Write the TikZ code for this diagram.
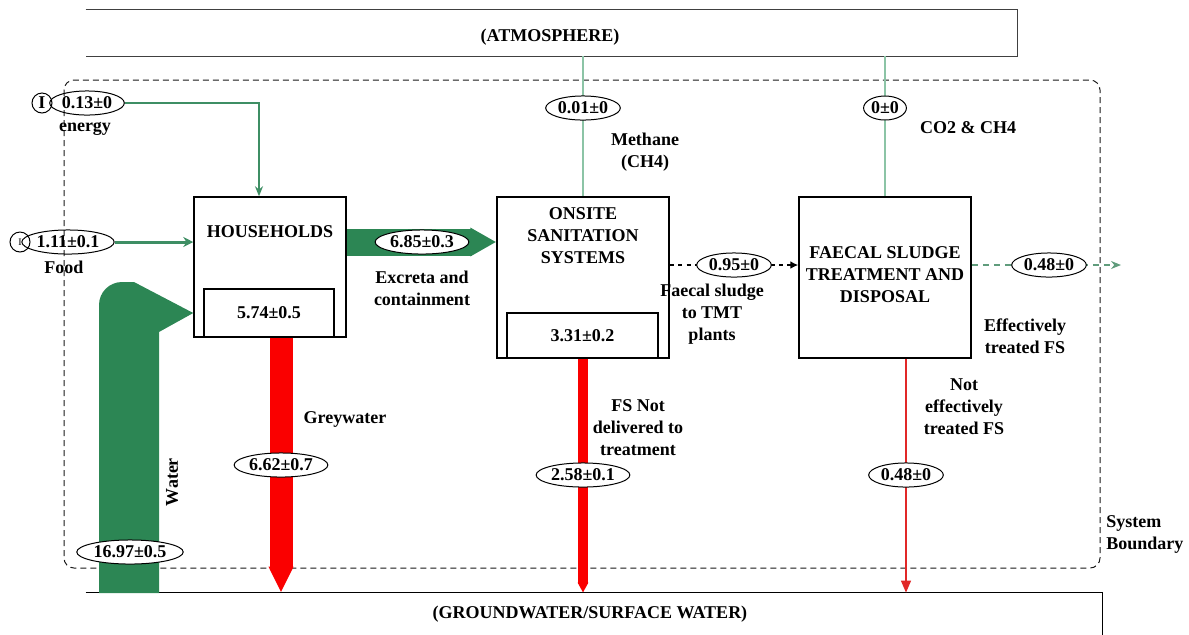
\documentclass[tikz,border=0pt]{standalone}
\usepackage{fontspec}
\setmainfont{Liberation Serif}
\usepackage{tikz}
\usetikzlibrary{arrows.meta, positioning, calc, shapes.geometric}
\definecolor{bandgreen}{RGB}{44,134,84}
\definecolor{flowgreen}{RGB}{62,142,100}
\definecolor{palegreen}{RGB}{140,196,166}
\definecolor{fsgreen}{RGB}{96,156,124}
\definecolor{flowred}{RGB}{250,0,0}
\definecolor{thinred}{RGB}{225,40,40}

\begin{document}
\begin{tikzpicture}[x=0.5pt, y=-0.5pt,
  font=\fontsize{9}{11}\selectfont\bfseries,
  box/.style={draw, line width=0.75pt, inner sep=0pt},
  val/.style={ellipse, draw, fill=white, line width=0.5pt, inner xsep=0.6pt, inner ysep=1.2pt},
  lbl/.style={align=center, inner sep=0pt}]
  \useasboundingbox (0,0) rectangle (1189,634);
  % system boundary
  \draw[black!90, line width=0.5pt, dash pattern=on 3pt off 2pt, rounded corners=5pt] (64,80) rectangle (1100,568);
  \node[lbl, align=left, anchor=west] (sysb) at (1106,534) {System\\Boundary};

  % environment
  \node[minimum width=465.5pt, minimum height=23pt, inner sep=0pt] (atm) at (551.5,33) {};
  \draw[black!75, line width=0.75pt] (atm.north west) -- (atm.north east) -- (atm.south east) -- (atm.south west);
  \node (atmtxt) at (550,37) {(ATMOSPHERE)};
  \node[minimum width=508pt, minimum height=30pt, inner sep=0pt] (gw) at (594,623) {};
  \draw[black, line width=0.75pt] (gw.north west) -- (gw.north east) -- (gw.south east);
  \node (gwtxt) at (590,614) {(GROUNDWATER/SURFACE WATER)};

  % processes
  \node[box, minimum width=76pt, minimum height=70pt] (hh) at (270,267) {};
  \node[lbl] (hhtxt) at (270,232) {HOUSEHOLDS};
  \node[box, minimum width=65pt, minimum height=24pt] (hhin) at (269,313) {5.74±0.5};
  \node[box, minimum width=86pt, minimum height=80.5pt] (oss) at (583,277.5) {};
  \node[lbl] (osstxt) at (583,236) {ONSITE\\SANITATION\\SYSTEMS};
  \node[box, minimum width=75.5pt, minimum height=22.5pt] (ossin) at (582.5,335.5) {3.31±0.2};
  \node[box, minimum width=86pt, minimum height=80.5pt] (fst) at (885,277.5) {};
  \node[lbl] (fsttxt) at (885,275) {FAECAL SLUDGE\\TREATMENT AND\\DISPOSAL};

  % inputs
  \node[circle, draw, minimum size=10pt, inner sep=0pt, line width=0.5pt] (in1) at (42,103) {I};
  \node[val, fill=none] (v013) at (87,103) {0.13±0};
  \node[lbl] (energy) at (85,129) {energy};
  \node[circle, draw, minimum size=10pt, inner sep=0pt, line width=0.5pt, font=\tiny] (in2) at (20,242) {I};
  \node[val, fill=none] (v111) at (68,242) {1.11±0.1};
  \node[lbl] (food) at (64,267) {Food};
  \coordinate (hhtop) at ($(hh.north)+(-11,0)$);
  \draw[flowgreen, line width=0.75pt, -{Stealth[length=5pt, width=4pt]}] (v013.east) -| (hhtop);
  \draw[flowgreen, line width=1.5pt, -{Stealth[length=5pt, width=5pt]}] (v111.east) -- (v111.east -| hh.west);

  % water
  \fill[bandgreen] (99,593) -- (99,305) arc[start angle=180, end angle=270, radius=23]
    -- (134,282) -- (hh.west |- hhin) -- (159,332) -- (159,593) -- cycle;
  \node[lbl, rotate=90] (water) at (172,482) {Water};
  \node[val] (v1697) at (130,552) {16.97±0.5};

  % excreta
  \draw[bandgreen, line width=13.5pt, -{Triangle[length=13pt, width=0pt 1]}] (v111 -| hh.east) -- (v111 -| oss.west);
  \node[val] (v685) at (422,242) {6.85±0.3};
  \node[lbl] (excreta) at (422,288) {Excreta and\\containment};

  % greywater
  \coordinate (gwx) at ($(hhin.south)+(12,0)$);
  \draw[flowred, line width=11.5pt, -{Triangle[length=13pt, width=0pt 1]}] (gwx) -- (gwx |- gw.north);
  \node[val] (v662) at (281,465) {6.62±0.7};
  \node[lbl] (grey) at (345,419) {Greywater};

  % FS not delivered
  \draw[flowred, line width=5pt, -{Triangle[length=5pt, width=0pt 1]}] (oss.south) -- (oss.south |- gw.north);
  \node[val] (v258) at (583,475) {2.58±0.1};
  \node[lbl] (notdel) at (638,428) {FS Not\\delivered to\\treatment};

  % not effectively treated
  \coordinate (fsx) at ($(fst.south)+(21,0)$);
  \draw[thinred, line width=0.6pt, -{Triangle[length=6pt, width=5pt]}] (fsx) -- (fsx |- gw.north);
  \node[val] (v048b) at (906,475) {0.48±0};
  \node[lbl] (noteff) at (964,407) {Not\\effectively\\treated FS};

  % to TMT plants
  \coordinate (tmty) at (0,265);
  \draw[line width=1.3pt, dash pattern=on 2pt off 2.2pt, -{Latex[length=4pt, width=4pt]}] (oss.east |- tmty) -- (fst.west |- tmty);
  \node[val] (v095) at (734,265) {0.95±0};
  \node[lbl] (tmt) at (712,314) {Faecal sludge\\to TMT\\plants};

  % effectively treated
  \coordinate (efend) at (1121,265);
  \draw[fsgreen, line width=0.6pt, dash pattern=on 3pt off 2.5pt, -{Stealth[length=5pt, width=4pt]}] (fst.east |- efend) -- (efend);
  \node[val] (v048a) at (1049,265) {0.48±0};
  \node[lbl] (eff) at (1025,336) {Effectively\\treated FS};

  % emissions
  \draw[palegreen, line width=1pt] (oss.north |- atm.south) -- (oss.north);
  \node[val] (v001) at (583,108) {0.01±0};
  \node[lbl] (methane) at (645,152) {Methane\\(CH4)};
  \draw[palegreen, line width=1pt] (fst.north |- atm.south) -- (fst.north);
  \node[val] (v00) at (885,108) {0±0};
  \node[lbl] (co2) at (968,128) {CO2 \& CH4};
\end{tikzpicture}
\end{document}
